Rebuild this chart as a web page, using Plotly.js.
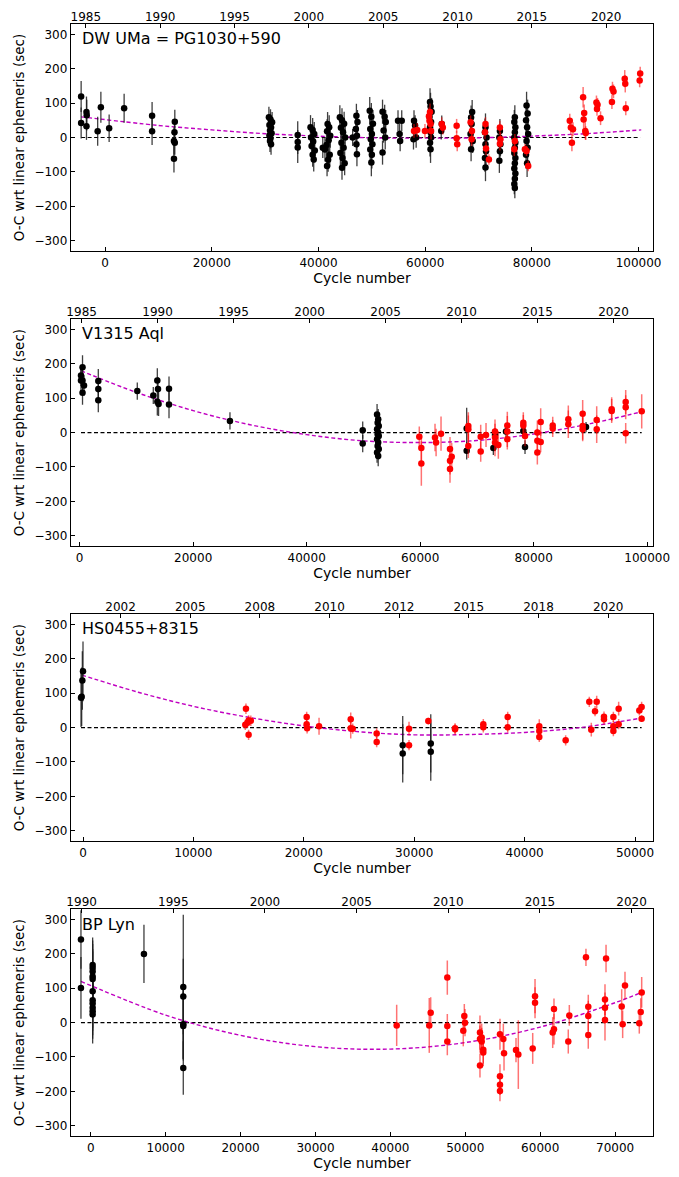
<!DOCTYPE html>
<html>
<head>
<meta charset="utf-8">
<script src="https://cdn.plot.ly/plotly-3.0.1.min.js"></script>
<style>
html,body{margin:0;padding:0;background:#fff;}
#chart{width:679px;height:1177px;}
</style>
</head>
<body>
<div id="chart"></div>
<script>
// ---------------- DW UMa = PG1030+590 ----------------
const dwName = "DW UMa = PG1030+590";
const dwBlackX = [-4500,-4500,-3500,-3450,-3500,-1400,-800,750,3560,8800,8800,13060,13000,12900,13060,12900,
  30700,31000,31300,30800,31100,30900,31200,30800,31000,30900,31100,
  36100,36100,36100,
  38500,38900,39200,38600,39000,38700,39300,38900,39100,
  41700,42000,41600,42200,41900,41500,40800,41200,42100,41800,41600,
  44000,44400,44800,44200,44600,45000,44300,44700,44100,44500,44900,44400,
  46400,
  47100,47300,47000,47200,47100,47200,
  49600,49900,50200,49700,50000,49800,50100,49700,50000,49900,
  52000,52400,52600,52200,52500,52000,
  54900,55600,55200,55300,
  57900,58100,58300,57800,
  60900,61000,61200,60800,61100,60900,61000,61100,60900,61000,
  63100,63000,
  68800,68600,68700,68500,68900,68600,
  71300,71200,71500,71300,71400,71200,71300,
  74000,73900,74100,74000,73900,
  76800,76700,76900,76800,76700,76900,76800,76700,76900,76800,76700,76900,76800,76700,76800,
  79000,79200,78900,79100,79300,79000,79200,78900,79100];
const dwBlackY = [119,42,74,65,33,18,88,27,85,63,18,46,15,-10,-15,-62,
  59,52,44,36,29,20,12,6,-2,-10,-20,
  7,-13,-29,
  30,22,10,0,-12,-25,-38,-50,-64,
  39,30,18,5,-8,-22,-30,-35,-50,-65,-83,
  59,50,40,28,15,0,-15,-30,-45,-60,-75,-88,
  0,
  63,45,25,5,-20,-49,
  78,60,40,25,10,-5,-20,-35,-50,-73,
  75,60,45,20,0,-44,
  49,49,10,-10,
  49,35,0,-5,
  103,90,75,60,45,30,15,0,-15,-34,
  39,19,
  74,58,39,10,-10,-34,
  30,15,0,-20,-40,-60,-87,
  19,0,-20,-40,-68,
  59,45,30,15,0,-15,-30,-45,-60,-75,-90,-105,-120,-135,-147,
  93,70,50,30,10,-10,-30,-50,-75];
const dwBlackErr = [45,45,45,45,40,42,45,40,42,40,40,35,35,40,35,40,
  30,30,30,28,30,30,30,30,30,32,30,
  40,35,45,
  35,35,35,35,35,35,35,35,35,
  35,35,35,35,35,35,30,35,35,35,30,
  35,35,35,35,35,35,35,35,35,35,35,35,
  25,
  35,35,35,35,35,35,
  40,40,40,40,40,40,40,40,40,40,
  35,35,35,35,35,35,
  30,30,30,30,
  30,30,30,30,
  40,40,40,40,40,40,40,40,40,40,
  25,25,
  35,35,35,35,35,35,
  40,40,40,40,40,40,40,
  35,35,35,35,35,
  35,35,35,35,35,35,35,35,35,35,35,35,35,30,30,
  40,40,40,40,40,40,40,40,40];
const dwRedX = [57900,58500,59950,60900,60800,61000,61100,60700,63100,63300,65890,65890,66000,68510,68760,68700,
  71300,71200,71400,71940,74000,74100,74000,76800,76700,78690,79000,79310,
  87100,87300,87700,87500,89600,89800,89700,90000,90100,92100,92300,92200,92870,
  95100,95300,95000,97400,97500,97600,100300,100200];
const dwRedY = [19,22,19,74,49,39,19,62,39,29,34,-2,-20,44,19,-5,
  39,15,-32,-64,29,-5,-18,-10,-34,-34,-39,-83,
  49,29,24,-15,117,71,52,19,13,102,95,83,56,
  142,134,103,171,156,85,186,166];
const dwRedErr = [20,20,20,25,25,25,25,25,20,20,20,20,20,20,20,20,
  20,20,20,15,20,20,20,20,20,15,15,15,
  20,20,20,25,30,25,25,25,20,20,20,20,20,
  20,20,20,25,25,20,20,20];
const dwFitX = [-4500,10000,20000,30000,40000,50000,60000,70000,80000,90000,100500];
const dwFitY = [60,35,22,11,4,-1,-2,-1,4,11,22];
const dwYearTicks = [1985,1990,1995,2000,2005,2010,2015,2020];
const dwYearText = ["1985","1990","1995","2000","2005","2010","2015","2020"];

// ---------------- V1315 Aql ----------------
const vName = "V1315 Aql";
const vBlackX = [230,230,500,500,500,760,3280,3280,3280,10150,12970,13680,13800,13680,13900,15740,15740,26480,
  49870,49870,
  52400,52600,52500,52700,52400,52600,52500,52700,52400,52600,52500,52700,52400,52600,
  68190,68190,72890,73180,75120,78170,78470,89220];
const vBlackY = [166,152,190,152,116,137,150,127,94,121,108,152,127,90,83,128,82,34,
  7,-32,
  53,39,29,19,10,0,-5,-10,-19,-29,-39,-48,-58,-68,
  12,-53,-45,-7,3,5,-42,16];
const vBlackErr = [30,35,35,35,35,30,35,30,35,25,25,35,35,40,35,35,40,25,
  25,25,
  30,30,30,30,30,30,30,30,30,30,30,30,30,30,
  60,25,20,20,20,20,20,15];
const vRedX = [59840,60200,60200,62610,62800,63670,65250,65250,65250,65550,68480,68480,68480,70660,70660,71600,
  73180,73180,73180,73770,75350,75350,75350,78170,78170,78470,80640,80640,80640,81230,81230,83350,83350,
  86100,86100,88630,88630,88630,91100,91100,93740,93740,96210,96210,96210,99030];
const vRedY = [-12,-45,-90,-14,-29,-3,-48,-82,-106,-70,19,10,-39,-12,-55,-7,
  3,-14,-29,-36,21,3,-19,29,21,-10,0,-24,-58,31,-27,21,12,
  39,24,55,19,10,37,10,68,63,89,74,-2,62];
const vRedErr = [30,40,65,40,40,50,35,40,40,40,40,40,35,35,30,35,
  35,40,40,40,40,45,30,30,30,30,35,35,35,40,30,25,25,
  40,40,40,40,35,40,40,35,35,35,35,30,50];
const vFitX = [230,10000,20000,30000,40000,50000,60000,70000,80000,90000,99100];
const vFitY = [180,117,64,23,-6,-24,-29,-23,-4,26,61];
const vYearTicks = [1985,1990,1995,2000,2005,2010,2015,2020];
const vYearText = ["1985","1990","1995","2000","2005","2010","2015","2020"];

// ---------------- HS0455+8315 ----------------
const hsName = "HS0455+8315";
const hsBlackX = [-180,-120,-60,0,28960,28960,31500,31500];
const hsBlackY = [87,90,137,164,-51,-75,-46,-70];
const hsBlackErr = [85,85,85,87,85,85,85,85];
const hsRedX = [14700,14760,14900,15000,15000,15200,20260,20260,20300,21380,24250,24250,24430,26600,26600,
  29530,29530,31280,33700,33700,36260,36260,38470,38470,41330,41330,41330,43720,
  45860,46040,46380,46530,47190,47190,48040,48040,48040,48520,48520,50390,50600,50600];
const hsRedY = [8,55,14,21,-21,20,31,10,-2,4,24,-2,-3,-17,-42,
  -3,-51,19,-2,-5,10,1,31,1,4,-10,-27,-37,
  75,-6,48,75,32,24,31,4,-10,55,10,50,60,26];
const hsRedErr = [15,15,15,15,15,15,15,15,15,25,20,30,15,15,15,
  20,15,10,15,15,15,15,15,15,20,15,15,15,
  15,20,15,18,15,15,15,15,15,20,15,15,15,10];
const hsFitX = [-100,5000,10000,15000,20000,25000,30000,35000,40000,45000,50600];
const hsFitY = [153,103,62,30,5,-12,-21,-20,-14,0,28];
const hsYearTicks = [2002.5,2005,2007.5,2010,2012.5,2015,2017.5,2020];
const hsYearText = ["2002","2005","2008","2010","2012","2015","2018","2020"];

// ---------------- BP Lyn ----------------
const bpName = "BP Lyn";
const bpBlackX = [-1310,-1310,250,250,250,250,250,250,250,250,250,250,250,7100,12350,12350,12350,12350,12350];
const bpBlackY = [242,101,168,159,149,134,127,91,65,56,43,33,24,200,104,76,-5,-10,-132];
const bpBlackErr = [85,90,80,80,80,80,80,80,80,80,80,80,85,85,210,110,100,100,78];
const bpRedX = [40840,45190,45380,47600,47600,47600,49730,49870,49960,51960,51960,51960,52190,52190,52400,52400,
  54630,54630,54630,54630,55080,55170,56770,57080,59000,59310,59310,61670,61840,61840,63750,63890,
  66110,66420,66420,66420,68650,68650,68650,68790,70880,71010,71320,73230,73420,73550];
const bpRedY = [-8,-8,29,131,-10,-55,-24,19,0,-29,-48,-125,-43,-55,-79,-87,
  -34,-156,-181,-199,-48,-89,-80,-93,-75,77,58,-29,40,-19,-55,21,
  190,46,19,-36,67,43,8,187,47,-5,108,-2,31,88];
const bpRedErr = [60,80,45,50,35,40,45,35,40,50,40,35,40,40,40,40,
  45,35,30,30,45,50,35,100,45,50,45,45,30,45,35,30,
  25,35,45,40,45,45,60,40,50,40,40,30,40,45];
const bpFitX = [-1310,10000,20000,30000,40000,50000,60000,70000,73550];
const bpFitY = [120,22,-37,-70,-77,-58,-13,58,88];
const bpYearTicks = [1990,1995,2000,2005,2010,2015,2020];
const bpYearText = ["1990","1995","2000","2005","2010","2015","2020"];

// ---------------- build ----------------
const FONT = "DejaVu Sans, Verdana, sans-serif";
const panels = [
  {name: dwName, bx: dwBlackX, by: dwBlackY, be: dwBlackErr, rx: dwRedX, ry: dwRedY, re: dwRedErr,
   fx: dwFitX, fy: dwFitY, yt: dwYearTicks, ytext: dwYearText,
   xrange: [-6400, 102700], yrRange: [1984.0, 2023.15], dtick: 20000, dom: [0.7959, 1.0]},
  {name: vName, bx: vBlackX, by: vBlackY, be: vBlackErr, rx: vRedX, ry: vRedY, re: vRedErr,
   fx: vFitX, fy: vFitY, yt: vYearTicks, ytext: vYearText,
   xrange: [-1530, 101020], yrRange: [1984.3, 2022.6], dtick: 20000, dom: [0.5306, 0.7345]},
  {name: hsName, bx: hsBlackX, by: hsBlackY, be: hsBlackErr, rx: hsRedX, ry: hsRedY, re: hsRedErr,
   fx: hsFitX, fy: hsFitY, yt: hsYearTicks, ytext: hsYearText,
   xrange: [-1087, 51630], yrRange: [2000.72, 2021.61], dtick: 10000, dom: [0.2653, 0.4692]},
  {name: bpName, bx: bpBlackX, by: bpBlackY, be: bpBlackErr, rx: bpRedX, ry: bpRedY, re: bpRedErr,
   fx: bpFitX, fy: bpFitY, yt: bpYearTicks, ytext: bpYearText,
   xrange: [-2640, 75060], yrRange: [1989.42, 2021.17], dtick: 10000, dom: [0.0, 0.2039]}
];

const traces = [];
const layout = {
  width: 679, height: 1177,
  margin: {l: 71, r: 26, t: 24, b: 41},
  paper_bgcolor: "#fff", plot_bgcolor: "#fff",
  showlegend: false,
  font: {family: FONT, color: "#000", size: 12},
  annotations: []
};

panels.forEach((p, i) => {
  const n = i + 1;
  const xa = n === 1 ? "x" : "x" + n;
  const ya = n === 1 ? "y" : "y" + n;
  const xk = n === 1 ? "xaxis" : "xaxis" + n;
  const yk = n === 1 ? "yaxis" : "yaxis" + n;
  const topa = "x" + (n + 4);
  const topk = "xaxis" + (n + 4);
  const allX = p.bx.concat(p.rx);
  const xmin = Math.min(...allX), xmax = Math.max(...allX);

  traces.push({x: [xmin, xmax], y: [0, 0], xaxis: xa, yaxis: ya, mode: "lines",
    line: {color: "#000", width: 1.2, dash: "4px,2.5px"}, hoverinfo: "skip"});
  traces.push({x: p.fx, y: p.fy, xaxis: xa, yaxis: ya, mode: "lines",
    line: {color: "#c000c0", width: 1.4, dash: "4px,2.5px", shape: "spline", smoothing: 1}, hoverinfo: "skip"});
  traces.push({x: p.bx, y: p.by, xaxis: xa, yaxis: ya, mode: "markers",
    marker: {color: "#000", size: 6.5},
    error_y: {type: "data", array: p.be, visible: true, color: "rgba(30,30,30,0.85)", thickness: 1.3, width: 0}});
  traces.push({x: p.rx, y: p.ry, xaxis: xa, yaxis: ya, mode: "markers",
    marker: {color: "#ff0000", size: 6.5},
    error_y: {type: "data", array: p.re, visible: true, color: "rgba(255,0,0,0.55)", thickness: 1.5, width: 0}});
  // invisible carrier so the top (year) axis is drawn
  traces.push({x: p.yt, y: p.yt.map(() => null), xaxis: topa, yaxis: ya, mode: "markers",
    marker: {opacity: 0}, hoverinfo: "skip"});

  layout[xk] = {
    domain: [0, 1], anchor: ya, range: p.xrange, dtick: p.dtick, tick0: 0,
    ticks: "inside", ticklen: 4, tickwidth: 1, tickcolor: "#000",
    showline: true, linecolor: "#000", linewidth: 1.2, mirror: true,
    showgrid: false, zeroline: false, tickformat: "d",
    tickfont: {family: FONT, size: 12, color: "#000"},
    title: {text: "Cycle number", font: {family: FONT, size: 14, color: "#000"}, standoff: 4}
  };
  layout[yk] = {
    domain: p.dom, anchor: xa, range: [-330, 330], dtick: 100, tick0: 0,
    ticks: "inside", ticklen: 4, tickwidth: 1, tickcolor: "#000",
    showline: true, linecolor: "#000", linewidth: 1.2, mirror: true,
    showgrid: false, zeroline: false,
    tickfont: {family: FONT, size: 12, color: "#000"},
    title: {text: "O-C wrt linear ephemeris (sec)", font: {family: FONT, size: 13.5, color: "#000"}, standoff: 6}
  };
  layout[topk] = {
    overlaying: xa, anchor: ya, side: "top", range: p.yrRange,
    tickmode: "array", tickvals: p.yt, ticktext: p.ytext,
    ticks: "inside", ticklen: 4, tickwidth: 1, tickcolor: "#000",
    showline: false, showgrid: false, zeroline: false,
    tickfont: {family: FONT, size: 12, color: "#000"}
  };
  layout.annotations.push({
    text: p.name, xref: xa + " domain", yref: ya + " domain",
    x: 0.015, y: 0.935, xanchor: "left", yanchor: "middle", showarrow: false,
    font: {family: FONT, size: 16, color: "#000"}
  });
});

Plotly.newPlot("chart", traces, layout, {staticPlot: true, displayModeBar: false});
</script>
</body>
</html>
